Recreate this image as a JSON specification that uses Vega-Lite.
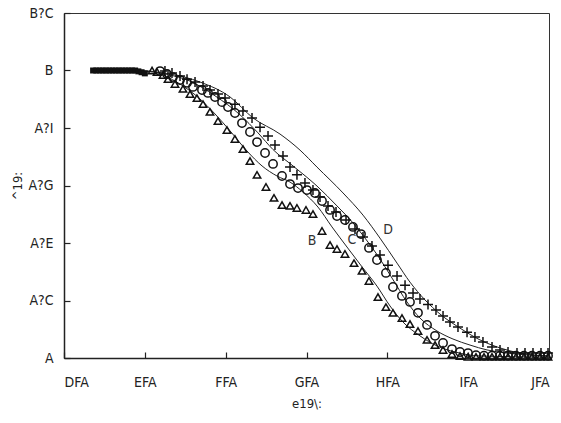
{
  "$schema": "https://vega.github.io/schema/vega-lite/v6.json",
  "width": 485,
  "height": 345,
  "autosize": {"type": "none"},
  "padding": {"left": 64, "top": 13, "right": 12, "bottom": 65},
  "background": "white",
  "config": {
    "view": {"stroke": "#333", "strokeWidth": 1},
    "font": "Liberation Sans Narrow, Arial Narrow, DejaVu Sans Condensed, sans-serif",
    "axis": {
      "grid": false,
      "ticks": true,
      "domainColor": "#222",
      "domainWidth": 1.5,
      "tickColor": "#222",
      "tickWidth": 1.2,
      "tickSize": -6,
      "zindex": 1,
      "labelFont": "Liberation Sans Narrow, Arial Narrow, DejaVu Sans Condensed, sans-serif",
      "labelFontSize": 14,
      "labelColor": "#222",
      "titleFont": "Liberation Sans Narrow, Arial Narrow, DejaVu Sans Condensed, sans-serif",
      "titleFontSize": 13,
      "titleFontWeight": "normal",
      "titleColor": "#222"
    }
  },
  "datasets": {
    "markers": [
      {"s": "sq", "x": 386, "y": 1.0}, {"s": "sq", "x": 390, "y": 1.0}, {"s": "sq", "x": 394, "y": 1.0}, {"s": "sq", "x": 398, "y": 1.0},
      {"s": "sq", "x": 402, "y": 1.0}, {"s": "sq", "x": 406, "y": 1.0}, {"s": "sq", "x": 410, "y": 1.0}, {"s": "sq", "x": 414, "y": 1.0},
      {"s": "sq", "x": 418, "y": 1.0}, {"s": "sq", "x": 422, "y": 1.0}, {"s": "sq", "x": 426, "y": 1.0}, {"s": "sq", "x": 430, "y": 1.0},
      {"s": "sq", "x": 434, "y": 1.0}, {"s": "sq", "x": 438, "y": 1.0}, {"s": "sq", "x": 442, "y": 0.997}, {"s": "sq", "x": 446, "y": 0.994},
      {"s": "sq", "x": 450, "y": 0.99},

      {"s": "tri", "x": 458.9, "y": 1.0}, {"s": "tri", "x": 465.1, "y": 0.995}, {"s": "tri", "x": 472.5, "y": 0.984}, {"s": "tri", "x": 478.7, "y": 0.97},
      {"s": "tri", "x": 487.3, "y": 0.953}, {"s": "tri", "x": 497.2, "y": 0.936}, {"s": "tri", "x": 505.9, "y": 0.918}, {"s": "tri", "x": 514.5, "y": 0.904},
      {"s": "tri", "x": 522.0, "y": 0.883}, {"s": "tri", "x": 530.6, "y": 0.856}, {"s": "tri", "x": 540.5, "y": 0.824}, {"s": "tri", "x": 551.6, "y": 0.793},
      {"s": "tri", "x": 561.5, "y": 0.762}, {"s": "tri", "x": 571.4, "y": 0.727}, {"s": "tri", "x": 580.1, "y": 0.685}, {"s": "tri", "x": 588.8, "y": 0.637},
      {"s": "tri", "x": 599.9, "y": 0.595}, {"s": "tri", "x": 609.8, "y": 0.557}, {"s": "tri", "x": 619.7, "y": 0.532}, {"s": "tri", "x": 629.6, "y": 0.529},
      {"s": "tri", "x": 638.2, "y": 0.522}, {"s": "tri", "x": 649.4, "y": 0.515}, {"s": "tri", "x": 658.0, "y": 0.501}, {"s": "tri", "x": 669.2, "y": 0.442},
      {"s": "tri", "x": 679.1, "y": 0.393}, {"s": "tri", "x": 687.7, "y": 0.379}, {"s": "tri", "x": 697.6, "y": 0.362}, {"s": "tri", "x": 708.8, "y": 0.33},
      {"s": "tri", "x": 718.7, "y": 0.303}, {"s": "tri", "x": 727.3, "y": 0.268}, {"s": "tri", "x": 738.4, "y": 0.212}, {"s": "tri", "x": 748.3, "y": 0.177},
      {"s": "tri", "x": 757.0, "y": 0.157}, {"s": "tri", "x": 768.1, "y": 0.139}, {"s": "tri", "x": 778.0, "y": 0.118}, {"s": "tri", "x": 787.9, "y": 0.094},
      {"s": "tri", "x": 799.1, "y": 0.063}, {"s": "tri", "x": 809.0, "y": 0.045}, {"s": "tri", "x": 818.9, "y": 0.028}, {"s": "tri", "x": 830.0, "y": 0.014},
      {"s": "tri", "x": 839.9, "y": 0.007}, {"s": "tri", "x": 849.8, "y": 0.004}, {"s": "tri", "x": 859.7, "y": 0.004}, {"s": "tri", "x": 869.6, "y": 0.004},
      {"s": "tri", "x": 879.5, "y": 0.004}, {"s": "tri", "x": 889.4, "y": 0.004}, {"s": "tri", "x": 899.3, "y": 0.004}, {"s": "tri", "x": 909.2, "y": 0.004},
      {"s": "tri", "x": 919.1, "y": 0.004}, {"s": "tri", "x": 929.0, "y": 0.004}, {"s": "tri", "x": 938.9, "y": 0.004}, {"s": "tri", "x": 948.8, "y": 0.004},

      {"s": "cir", "x": 468.8, "y": 0.998}, {"s": "cir", "x": 477.4, "y": 0.988}, {"s": "cir", "x": 484.8, "y": 0.977}, {"s": "cir", "x": 493.5, "y": 0.967},
      {"s": "cir", "x": 502.2, "y": 0.957}, {"s": "cir", "x": 509.6, "y": 0.943}, {"s": "cir", "x": 520.7, "y": 0.932}, {"s": "cir", "x": 528.1, "y": 0.922},
      {"s": "cir", "x": 536.8, "y": 0.908}, {"s": "cir", "x": 545.5, "y": 0.89}, {"s": "cir", "x": 552.9, "y": 0.873}, {"s": "cir", "x": 561.5, "y": 0.852},
      {"s": "cir", "x": 570.2, "y": 0.817}, {"s": "cir", "x": 580.1, "y": 0.786}, {"s": "cir", "x": 588.8, "y": 0.751}, {"s": "cir", "x": 598.7, "y": 0.713},
      {"s": "cir", "x": 608.6, "y": 0.675}, {"s": "cir", "x": 619.7, "y": 0.633}, {"s": "cir", "x": 629.6, "y": 0.605}, {"s": "cir", "x": 639.5, "y": 0.591},
      {"s": "cir", "x": 650.6, "y": 0.584}, {"s": "cir", "x": 660.5, "y": 0.574}, {"s": "cir", "x": 669.2, "y": 0.546}, {"s": "cir", "x": 679.1, "y": 0.515},
      {"s": "cir", "x": 687.7, "y": 0.494}, {"s": "cir", "x": 697.6, "y": 0.48}, {"s": "cir", "x": 707.5, "y": 0.456}, {"s": "cir", "x": 717.4, "y": 0.431},
      {"s": "cir", "x": 727.3, "y": 0.383}, {"s": "cir", "x": 737.2, "y": 0.341}, {"s": "cir", "x": 748.3, "y": 0.296}, {"s": "cir", "x": 757.0, "y": 0.247},
      {"s": "cir", "x": 768.1, "y": 0.216}, {"s": "cir", "x": 778.0, "y": 0.195}, {"s": "cir", "x": 787.9, "y": 0.157}, {"s": "cir", "x": 799.1, "y": 0.115},
      {"s": "cir", "x": 809.0, "y": 0.077}, {"s": "cir", "x": 818.9, "y": 0.052}, {"s": "cir", "x": 830.0, "y": 0.031}, {"s": "cir", "x": 839.9, "y": 0.021},
      {"s": "cir", "x": 849.8, "y": 0.017}, {"s": "cir", "x": 859.7, "y": 0.01}, {"s": "cir", "x": 869.6, "y": 0.008}, {"s": "cir", "x": 879.5, "y": 0.008},
      {"s": "cir", "x": 889.4, "y": 0.008}, {"s": "cir", "x": 899.3, "y": 0.008}, {"s": "cir", "x": 909.2, "y": 0.008}, {"s": "cir", "x": 919.1, "y": 0.008},
      {"s": "cir", "x": 929.0, "y": 0.008}, {"s": "cir", "x": 938.9, "y": 0.008}, {"s": "cir", "x": 948.8, "y": 0.008},

      {"s": "crs", "x": 474.9, "y": 0.998}, {"s": "crs", "x": 483.6, "y": 0.991}, {"s": "crs", "x": 493.5, "y": 0.981}, {"s": "crs", "x": 502.2, "y": 0.97},
      {"s": "crs", "x": 512.1, "y": 0.96}, {"s": "crs", "x": 522.0, "y": 0.946}, {"s": "crs", "x": 530.6, "y": 0.932}, {"s": "crs", "x": 540.5, "y": 0.918},
      {"s": "crs", "x": 549.2, "y": 0.904}, {"s": "crs", "x": 561.5, "y": 0.883}, {"s": "crs", "x": 571.4, "y": 0.859}, {"s": "crs", "x": 582.6, "y": 0.835},
      {"s": "crs", "x": 592.5, "y": 0.803}, {"s": "crs", "x": 602.4, "y": 0.772}, {"s": "crs", "x": 611.0, "y": 0.741}, {"s": "crs", "x": 620.9, "y": 0.703},
      {"s": "crs", "x": 629.6, "y": 0.664}, {"s": "crs", "x": 638.2, "y": 0.637}, {"s": "crs", "x": 648.1, "y": 0.609}, {"s": "crs", "x": 658.0, "y": 0.584},
      {"s": "crs", "x": 666.7, "y": 0.56}, {"s": "crs", "x": 676.6, "y": 0.529}, {"s": "crs", "x": 686.5, "y": 0.508}, {"s": "crs", "x": 698.9, "y": 0.48},
      {"s": "crs", "x": 710.0, "y": 0.449}, {"s": "crs", "x": 719.9, "y": 0.421}, {"s": "crs", "x": 731.0, "y": 0.39}, {"s": "crs", "x": 740.9, "y": 0.358},
      {"s": "crs", "x": 750.8, "y": 0.323}, {"s": "crs", "x": 762.0, "y": 0.285}, {"s": "crs", "x": 771.9, "y": 0.253}, {"s": "crs", "x": 781.8, "y": 0.226},
      {"s": "crs", "x": 790.4, "y": 0.205}, {"s": "crs", "x": 800.3, "y": 0.186}, {"s": "crs", "x": 810.2, "y": 0.167}, {"s": "crs", "x": 818.9, "y": 0.146},
      {"s": "crs", "x": 827.5, "y": 0.125}, {"s": "crs", "x": 837.4, "y": 0.108}, {"s": "crs", "x": 848.6, "y": 0.09}, {"s": "crs", "x": 858.4, "y": 0.073},
      {"s": "crs", "x": 868.3, "y": 0.056}, {"s": "crs", "x": 879.5, "y": 0.038}, {"s": "crs", "x": 889.4, "y": 0.028}, {"s": "crs", "x": 899.3, "y": 0.021},
      {"s": "crs", "x": 910.4, "y": 0.017}, {"s": "crs", "x": 920.3, "y": 0.017}, {"s": "crs", "x": 930.2, "y": 0.017}, {"s": "crs", "x": 940.1, "y": 0.017},
      {"s": "crs", "x": 948.8, "y": 0.017}
    ],
    "curves": [
      {"c": "B", "x": 388.4, "y": 1.0}, {"c": "B", "x": 456.4, "y": 0.998}, {"c": "B", "x": 474.9, "y": 0.981}, {"c": "B", "x": 493.5, "y": 0.953},
      {"c": "B", "x": 518.2, "y": 0.901}, {"c": "B", "x": 536.8, "y": 0.849}, {"c": "B", "x": 555.4, "y": 0.79}, {"c": "B", "x": 576.4, "y": 0.72},
      {"c": "B", "x": 595.0, "y": 0.668}, {"c": "B", "x": 613.5, "y": 0.633}, {"c": "B", "x": 629.6, "y": 0.612}, {"c": "B", "x": 645.7, "y": 0.577},
      {"c": "B", "x": 664.2, "y": 0.525}, {"c": "B", "x": 681.5, "y": 0.456}, {"c": "B", "x": 700.1, "y": 0.386}, {"c": "B", "x": 718.7, "y": 0.317},
      {"c": "B", "x": 737.2, "y": 0.25}, {"c": "B", "x": 753.3, "y": 0.181}, {"c": "B", "x": 769.4, "y": 0.125}, {"c": "B", "x": 790.4, "y": 0.077},
      {"c": "B", "x": 811.4, "y": 0.042}, {"c": "B", "x": 833.7, "y": 0.021}, {"c": "B", "x": 864.6, "y": 0.007}, {"c": "B", "x": 948.8, "y": 0.003},

      {"c": "C", "x": 388.4, "y": 1.0}, {"c": "C", "x": 444.0, "y": 0.998}, {"c": "C", "x": 474.9, "y": 0.988}, {"c": "C", "x": 505.9, "y": 0.963},
      {"c": "C", "x": 536.8, "y": 0.912}, {"c": "C", "x": 567.7, "y": 0.846}, {"c": "C", "x": 590.0, "y": 0.783}, {"c": "C", "x": 608.6, "y": 0.725},
      {"c": "C", "x": 633.3, "y": 0.668}, {"c": "C", "x": 663.0, "y": 0.598}, {"c": "C", "x": 687.7, "y": 0.529}, {"c": "C", "x": 707.5, "y": 0.47},
      {"c": "C", "x": 722.4, "y": 0.417}, {"c": "C", "x": 738.4, "y": 0.355}, {"c": "C", "x": 755.8, "y": 0.278}, {"c": "C", "x": 774.3, "y": 0.195},
      {"c": "C", "x": 790.4, "y": 0.139}, {"c": "C", "x": 811.4, "y": 0.094}, {"c": "C", "x": 831.2, "y": 0.066}, {"c": "C", "x": 852.3, "y": 0.045},
      {"c": "C", "x": 873.3, "y": 0.028}, {"c": "C", "x": 898.0, "y": 0.017}, {"c": "C", "x": 926.5, "y": 0.01}, {"c": "C", "x": 948.8, "y": 0.007},

      {"c": "D", "x": 388.4, "y": 1.0}, {"c": "D", "x": 444.0, "y": 0.998}, {"c": "D", "x": 481.1, "y": 0.988}, {"c": "D", "x": 518.2, "y": 0.96},
      {"c": "D", "x": 555.4, "y": 0.908}, {"c": "D", "x": 583.8, "y": 0.835}, {"c": "D", "x": 617.2, "y": 0.779}, {"c": "D", "x": 642.0, "y": 0.723},
      {"c": "D", "x": 663.0, "y": 0.664}, {"c": "D", "x": 695.2, "y": 0.574}, {"c": "D", "x": 719.9, "y": 0.497}, {"c": "D", "x": 740.9, "y": 0.417},
      {"c": "D", "x": 762.0, "y": 0.33}, {"c": "D", "x": 778.0, "y": 0.264}, {"c": "D", "x": 796.6, "y": 0.202}, {"c": "D", "x": 815.1, "y": 0.153},
      {"c": "D", "x": 839.9, "y": 0.104}, {"c": "D", "x": 864.6, "y": 0.063}, {"c": "D", "x": 889.4, "y": 0.035}, {"c": "D", "x": 914.1, "y": 0.017},
      {"c": "D", "x": 948.8, "y": 0.007}
    ],
    "labels": [
      {"t": "B", "x": 656.8, "y": 0.407},
      {"t": "C", "x": 706.3, "y": 0.41},
      {"t": "D", "x": 750.8, "y": 0.445}
    ]
  },
  "encoding": {
    "x": {
      "field": "x", "type": "quantitative",
      "scale": {"domain": [350, 950], "nice": false, "zero": false},
      "axis": {
        "title": "e19\\:",
        "values": [350, 450, 550, 650, 750, 850, 950],
        "labelExpr": "['DFA','EFA','FFA','GFA','HFA','IFA','JFA'][round((datum.value-350)/100)]",
        "labelPadding": 23,
        "titlePadding": 8
      }
    },
    "y": {
      "field": "y", "type": "quantitative",
      "scale": {"domain": [0, 1.2], "nice": false},
      "axis": {
        "title": "^19:",
        "values": [0, 0.2, 0.4, 0.6, 0.8, 1.0, 1.2],
        "labelExpr": "['A','A?C','A?E','A?G','A?I','B','B?C'][round(datum.value*5)]",
        "labelPadding": 17,
        "titlePadding": 3
      }
    }
  },
  "layer": [
    {
      "data": {"name": "curves"},
      "mark": {"type": "line", "color": "#222", "strokeWidth": 1, "interpolate": "monotone"},
      "encoding": {"detail": {"field": "c"}}
    },
    {
      "data": {"name": "markers"},
      "transform": [{"filter": "datum.s === 'sq'"}],
      "mark": {"type": "point", "shape": "square", "filled": true, "color": "#111", "size": 36, "opacity": 1}
    },
    {
      "data": {"name": "markers"},
      "transform": [{"filter": "datum.s === 'tri'"}],
      "mark": {"type": "point", "shape": "triangle-up", "filled": false, "color": "#111", "size": 55, "strokeWidth": 1.5, "opacity": 1}
    },
    {
      "data": {"name": "markers"},
      "transform": [{"filter": "datum.s === 'cir'"}],
      "mark": {"type": "point", "shape": "circle", "filled": false, "color": "#111", "size": 70, "strokeWidth": 1.5, "opacity": 1}
    },
    {
      "data": {"name": "markers"},
      "transform": [{"filter": "datum.s === 'crs'"}],
      "mark": {"type": "point", "shape": "M-1,0L1,0M0,-1L0,1", "filled": false, "color": "#111", "size": 100, "strokeWidth": 1.5, "opacity": 1}
    },
    {
      "data": {"name": "labels"},
      "mark": {"type": "text", "fontSize": 14, "color": "#333", "font": "Liberation Sans Narrow, Arial Narrow, DejaVu Sans Condensed, sans-serif"},
      "encoding": {"text": {"field": "t"}}
    }
  ]
}
